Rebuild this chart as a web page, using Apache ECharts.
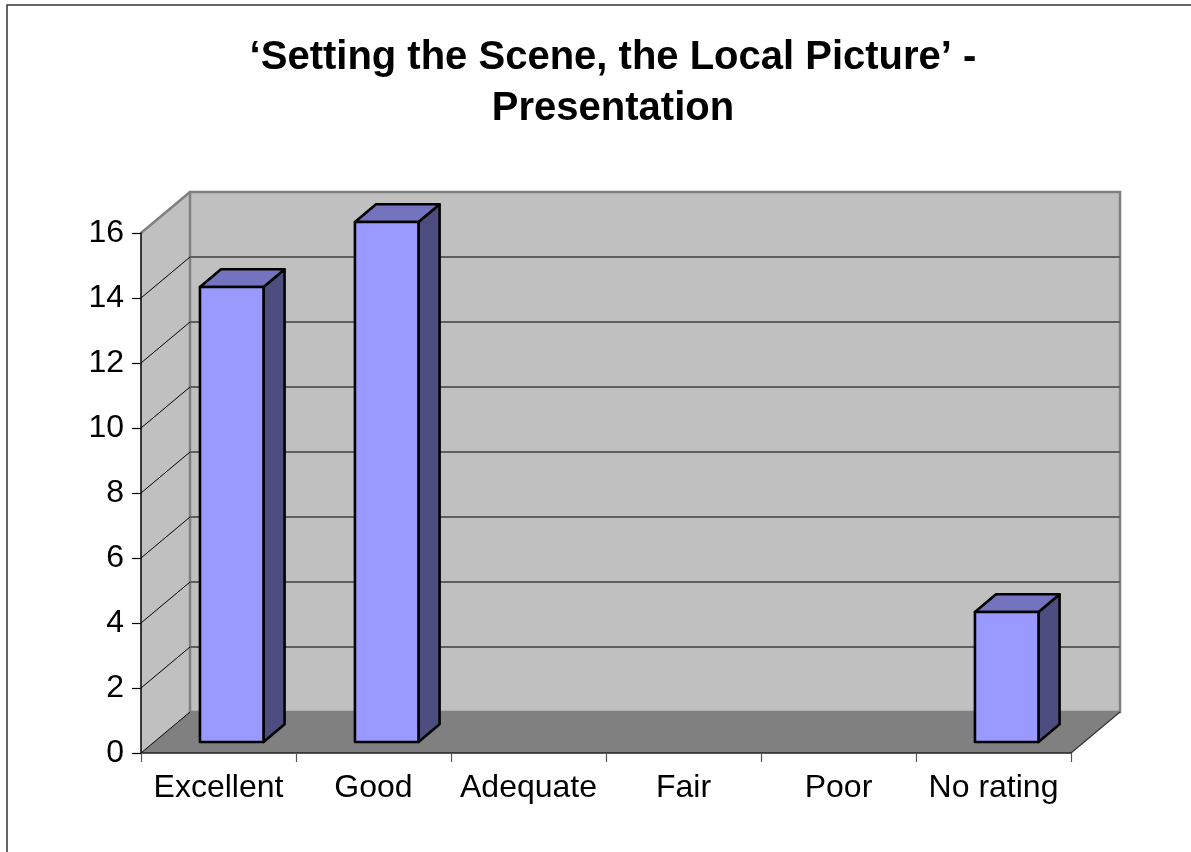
<!DOCTYPE html>
<html>
<head>
<meta charset="utf-8">
<script src="https://cdn.jsdelivr.net/npm/echarts@6/dist/echarts.min.js"></script>
<style>
	html, body { margin: 0; padding: 0; background: #ffffff; }
	#chart { width: 1191px; height: 852px; }
</style>
</head>
<body>
<div id="chart"></div>
<script>
/* 數據 */
const categories = ["Excellent", "Good", "Adequate", "Fair", "Poor", "No rating"];
const counts = [14, 16, 0, 0, 0, 4];
const yTicks = [0, 2, 4, 6, 8, 10, 12, 14, 16];
const titleLines = ["\u2018Setting the Scene, the Local Picture\u2019 -", "Presentation"];

/* 立體偏移 (像素) */
const DX = 49;
const DY = -41;
const FONT = "'Liberation Sans', Arial, sans-serif";

const chart = echarts.init(document.getElementById("chart"));

/* 牆面與地板 */
function renderWalls(params, api) {
	const bw = api.size([1, 0])[0];
	const x0 = api.coord([0, 0])[0] - bw / 2;
	const x1 = x0 + bw * categories.length;
	const y0 = api.coord([0, yTicks[0]])[1];
	const yTop = api.coord([0, yTicks[yTicks.length - 1]])[1];
	const children = [];
	// 側牆
	children.push({
		type: "polygon",
		shape: { points: [[x0, y0], [x0, yTop], [x0 + DX, yTop + DY], [x0 + DX, y0 + DY]] },
		style: { fill: "#c0c0c0", stroke: null },
	});
	// 後牆
	children.push({
		type: "rect",
		shape: { x: x0 + DX, y: yTop + DY, width: x1 - x0, height: y0 - yTop },
		style: { fill: "#c0c0c0", stroke: "#808080", lineWidth: 2.5 },
	});
	// 格線
	yTicks.slice(1, -1).forEach((v) => {
		const y = api.coord([0, v])[1];
		children.push({
			type: "line",
			shape: { x1: x0 + DX, y1: y + DY, x2: x1 + DX, y2: y + DY },
			style: { stroke: "#5f5f5f", lineWidth: 1.8 },
		});
		children.push({
			type: "line",
			shape: { x1: x0, y1: y, x2: x0 + DX, y2: y + DY },
			style: { stroke: "#000000", lineWidth: 1 },
		});
	});
	// 側牆上緣
	children.push({
		type: "line",
		shape: { x1: x0, y1: yTop, x2: x0 + DX, y2: yTop + DY },
		style: { stroke: "#808080", lineWidth: 2.5 },
	});
	// 地板
	children.push({
		type: "polygon",
		shape: { points: [[x0, y0], [x1, y0], [x1 + DX, y0 + DY], [x0 + DX, y0 + DY]] },
		style: { fill: "#808080", stroke: null },
	});
	children.push({
		type: "line",
		shape: { x1: x0, y1: y0, x2: x0 + DX, y2: y0 + DY },
		style: { stroke: "#000000", lineWidth: 1 },
	});
	children.push({
		type: "line",
		shape: { x1: x1, y1: y0, x2: x1 + DX, y2: y0 + DY },
		style: { stroke: "#333333", lineWidth: 1.2 },
	});
	return { type: "group", children: children };
}

/* 立體柱 */
function renderBar(params, api) {
	const i = api.value(0);
	const v = api.value(1);
	if (!v) return null;
	const bw = api.size([1, 0])[0];
	const cx = api.coord([i, 0])[0];
	const f = 0.27;
	const d = 0.43;
	const w = bw * 0.41;
	const left = cx + f * DX - w / 2;
	const right = left + w;
	const bottom = api.coord([i, 0])[1] + f * DY;
	const top = api.coord([i, v])[1] + f * DY;
	const ox = d * DX;
	const oy = d * DY;
	const line = { stroke: "#000000", lineWidth: 2.6, lineJoin: "round" };
	return {
		type: "group",
		children: [
			{
				type: "polygon",
				shape: { points: [[right, bottom], [right, top], [right + ox, top + oy], [right + ox, bottom + oy]] },
				style: Object.assign({ fill: "#4d4d80" }, line),
			},
			{
				type: "polygon",
				shape: { points: [[left, top], [right, top], [right + ox, top + oy], [left + ox, top + oy]] },
				style: Object.assign({ fill: "#7373bf" }, line),
			},
			{
				type: "rect",
				shape: { x: left, y: top, width: w, height: bottom - top },
				style: Object.assign({ fill: "#9999ff" }, line),
			},
		],
	};
}

chart.setOption({
	animation: false,
	title: {
		text: titleLines.join("\n"),
		left: 608,
		top: 27,
		textAlign: "center",
		textStyle: {
			fontFamily: FONT,
			fontSize: 40,
			fontWeight: "bold",
			lineHeight: 51,
			color: "#000000",
		},
	},
	graphic: [
		{
			type: "rect",
			shape: { x: 7, y: 5, width: 1400, height: 1000 },
			style: { fill: null, stroke: "#333333", lineWidth: 1.5 },
			silent: true,
		},
	],
	grid: {
		left: 141,
		right: 120,
		top: 233,
		bottom: 99,
	},
	xAxis: {
		type: "category",
		data: categories,
		z: 5,
		axisLine: { lineStyle: { color: "#222222", width: 1.5 } },
		axisTick: { show: true, length: 9, lineStyle: { color: "#555555", width: 1.2 } },
		axisLabel: {
			interval: 0,
			margin: 19,
			fontFamily: FONT,
			fontSize: 32,
			color: "#000000",
		},
		splitLine: { show: false },
	},
	yAxis: {
		type: "value",
		min: 0,
		max: 16,
		interval: 2,
		z: 5,
		axisLine: { show: true, lineStyle: { color: "#000000", width: 1.5 } },
		axisTick: { show: true, length: 9, lineStyle: { color: "#000000", width: 1.2 } },
		axisLabel: {
			margin: 17,
			fontFamily: FONT,
			fontSize: 32,
			color: "#000000",
		},
		splitLine: { show: false },
	},
	series: [
		{
			type: "custom",
			silent: true,
			z: 1,
			renderItem: renderWalls,
			data: [[0, 0]],
		},
		{
			type: "custom",
			silent: true,
			z: 3,
			renderItem: renderBar,
			data: counts.map((c, i) => [i, c]),
		},
	],
});
</script>
</body>
</html>
